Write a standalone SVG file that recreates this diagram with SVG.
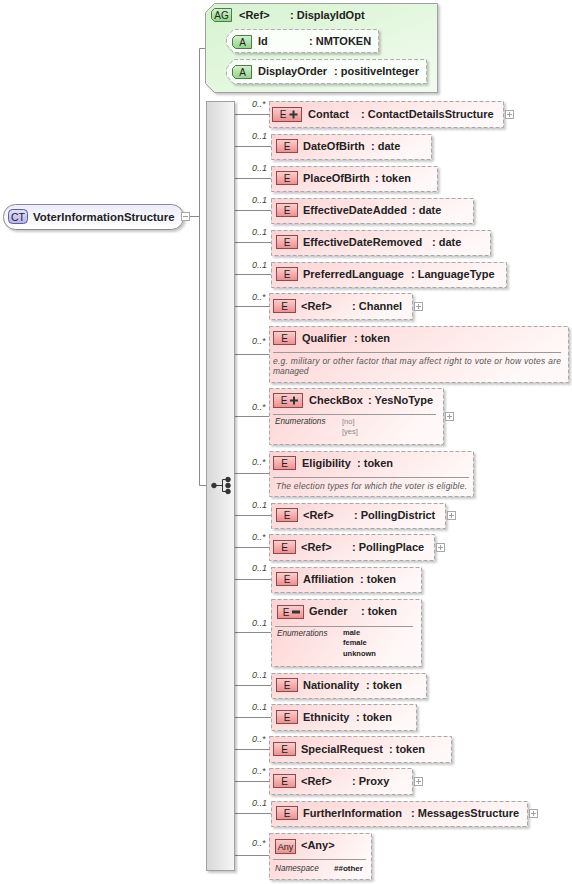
<svg xmlns="http://www.w3.org/2000/svg" width="572" height="884" viewBox="0 0 572 884">
<defs>
<linearGradient id="gEl" x1="0" y1="0" x2="1" y2="0.3">
<stop offset="0" stop-color="#fdd3d3"/><stop offset="1" stop-color="#fff8f8"/>
</linearGradient>
<linearGradient id="gBadge" x1="0" y1="0" x2="0" y2="1">
<stop offset="0" stop-color="#fbd0d0"/><stop offset="1" stop-color="#ee8e8e"/>
</linearGradient>
<linearGradient id="gAG" x1="0" y1="0" x2="1" y2="1">
<stop offset="0" stop-color="#d6f3cf"/><stop offset="1" stop-color="#f2fbf0"/>
</linearGradient>
<linearGradient id="gA" x1="0" y1="0" x2="0" y2="1">
<stop offset="0" stop-color="#d4f0cf"/><stop offset="1" stop-color="#8fd488"/>
</linearGradient>
<linearGradient id="gCT" x1="0" y1="0" x2="0" y2="1">
<stop offset="0" stop-color="#ececfb"/><stop offset="1" stop-color="#ffffff"/>
</linearGradient>
<linearGradient id="gCTb" x1="0" y1="0" x2="0" y2="1">
<stop offset="0" stop-color="#e2e2fa"/><stop offset="1" stop-color="#b4b4ec"/>
</linearGradient>
<linearGradient id="gSeq" x1="0" y1="0" x2="1" y2="0">
<stop offset="0" stop-color="#d8d8d8"/><stop offset="1" stop-color="#f6f6f6"/>
</linearGradient>
<filter id="sh" x="-5%" y="-5%" width="115%" height="130%">
<feDropShadow dx="2" dy="2" stdDeviation="1" flood-color="#000" flood-opacity="0.22"/>
</filter>
<style>
.conn{stroke:#8a8a8a;stroke-width:1;fill:none}
.el{fill:url(#gEl);stroke:#a8a8a8;stroke-width:1;stroke-dasharray:4,2;filter:url(#sh)}
.badge{fill:url(#gBadge);stroke:#8c4a4a;stroke-width:1}
.bt{font-family:"Liberation Sans",Arial,sans-serif;font-size:10px;fill:#222;text-anchor:middle}
.nm{font-family:"Liberation Sans",Arial,sans-serif;font-size:11px;font-weight:bold;fill:#222}
.occ{font-family:"Liberation Sans",Arial,sans-serif;font-size:9px;font-style:italic;fill:#444}
.desc{font-family:"Liberation Sans",Arial,sans-serif;font-size:8.5px;font-style:italic;fill:#555}
.en{font-family:"Liberation Sans",Arial,sans-serif;font-size:8.2px;font-style:italic;fill:#333}
.ev{font-family:"Liberation Sans",Arial,sans-serif;font-size:7.5px;fill:#8a8a8a}
.evb{font-family:"Liberation Sans",Arial,sans-serif;font-size:7.5px;font-weight:bold;fill:#222}
.sep{stroke:#9a9a9a;stroke-width:1}
.pm{fill:#fff;stroke:#a8a8a8;stroke-width:1}
.pml{stroke:#a0a0a0;stroke-width:1}
.ico{stroke:#333;stroke-width:2}
.attr{fill:#fbfffa;stroke:#b0b0b0;stroke-width:1;stroke-dasharray:4,2;filter:url(#sh)}
.abadge{fill:url(#gA);stroke:#4d7d46;stroke-width:1}
</style>
</defs>
<rect width="572" height="884" fill="#fff"/>

<g id="connectors">
<path class="conn" d="M190,216.5H199.5M199.5,48.5V485.5M199.5,48.5H217.5M217.5,40.5V71.5M217.5,40.5H226M217.5,71.5H226M199.5,485.5H214"/>
<path class="conn" d="M235,114.5H269M235,146.5H271M235,178.5H271M235,210.5H271M235,242.5H271M235,274.5H271M235,306.5H269M235,354.5H269M235,416.5H269M235,473.5H269M235,515.5H271M235,547.5H269M235,579.5H271M235,632.5H271M235,685.5H271M235,717.5H271M235,749.5H269M235,781.5H269M235,813.5H271M235,855.5H269"/>
</g>

<g id="n-VoterInformationStructure">
<rect x="3.5" y="204.5" width="180" height="25" rx="12" fill="url(#gCT)" stroke="#8c8c8c" filter="url(#sh)"/>
<rect x="8.5" y="209.5" width="19" height="14" rx="4" fill="url(#gCTb)" stroke="#5a5aa8"/>
<text class="bt" x="18" y="220.5" style="font-size:10.5px">CT</text>
<text class="nm" x="33" y="221" style="font-size:11.4px">VoterInformationStructure</text>
<rect class="pm" x="181.5" y="212.5" width="8" height="8"/>
<path class="pml" d="M183,216.5H188"/>
</g>

<g id="n-DisplayIdOpt">
<path d="M205.5,12.5L214.5,3.5H437.5V92.5H214.5L205.5,83.5Z" fill="url(#gAG)" stroke="#a0a0a0" filter="url(#sh)"/>
<path d="M214.5,8.5H231.5V21.5H214.5L211.5,18.5V11.5Z" fill="url(#gA)" stroke="#4d7d46"/>
<text class="bt" x="221.5" y="19">AG</text>
<text class="nm" x="239" y="19">&lt;Ref&gt;</text>
<text class="nm" x="290" y="19">: DisplayIdOpt</text>
</g>

<g id="n-Id">
<path class="attr" d="M226.5,37.5L233.5,29.5H378.5V52.5H233.5L226.5,44.5Z"/>
<path class="abadge" d="M235.5,35.5H251.5V48.5H235.5L232.5,45.5V38.5Z"/>
<text class="bt" x="242.5" y="46">A</text>
<text class="nm" x="258" y="45">Id</text>
<text class="nm" x="309" y="45">: NMTOKEN</text>
</g>

<g id="n-DisplayOrder">
<path class="attr" d="M226.5,68.5L233.5,59.5H426.5V83.5H233.5L226.5,75.5Z"/>
<path class="abadge" d="M235.5,65.5H251.5V78.5H235.5L232.5,75.5V68.5Z"/>
<text class="bt" x="242.5" y="76">A</text>
<text class="nm" x="258" y="75">DisplayOrder</text>
<text class="nm" x="334" y="75">: positiveInteger</text>
</g>

<g id="n-sequence">
<rect x="206.5" y="101.5" width="28" height="769" fill="url(#gSeq)" stroke="#a0a0a0" filter="url(#sh)"/>
<g fill="#333" stroke="#333">
<circle cx="214" cy="485.5" r="2.3"/>
<path d="M214,485.5H222.5M222.5,479.5V491.5M222.5,479.5H228M222.5,491.5H228" stroke-width="1" fill="none"/>
<circle cx="228" cy="479.5" r="2.3"/><circle cx="228" cy="485.5" r="2.3"/><circle cx="228" cy="491.5" r="2.3"/>
</g>
</g>

<g id="n-Contact">
<text class="occ" x="252" y="107">0..*</text>
<rect class="el" x="269.5" y="101.5" width="234" height="26"/>
<rect class="badge" x="272.5" y="107.5" width="29" height="14"/>
<text class="bt" x="283" y="118">E</text>
<path class="ico" d="M289.5,114.5H297.5M293.5,110.5V118.5"/>
<text class="nm" x="308" y="118">Contact</text>
<text class="nm" x="361" y="118">: ContactDetailsStructure</text>
<rect class="pm" x="505.5" y="110.5" width="8" height="8"/>
<path class="pml" d="M507,114.5H512M509.5,112V117"/>
</g>

<g id="n-DateOfBirth">
<text class="occ" x="252" y="139">0..1</text>
<rect class="el" x="271.5" y="134.5" width="160" height="25"/>
<rect class="badge" x="276.5" y="139.5" width="21" height="13"/>
<text class="bt" x="287" y="150">E</text>
<text class="nm" x="303" y="150">DateOfBirth</text>
<text class="nm" x="371" y="150">: date</text>
</g>

<g id="n-PlaceOfBirth">
<text class="occ" x="252" y="171">0..1</text>
<rect class="el" x="271.5" y="166.5" width="166" height="25"/>
<rect class="badge" x="276.5" y="171.5" width="21" height="13"/>
<text class="bt" x="287" y="182">E</text>
<text class="nm" x="303" y="182">PlaceOfBirth</text>
<text class="nm" x="375" y="182">: token</text>
</g>

<g id="n-EffectiveDateAdded">
<text class="occ" x="252" y="203">0..1</text>
<rect class="el" x="271.5" y="198.5" width="202" height="25"/>
<rect class="badge" x="276.5" y="203.5" width="21" height="13"/>
<text class="bt" x="287" y="214">E</text>
<text class="nm" x="303" y="214">EffectiveDateAdded</text>
<text class="nm" x="412" y="214">: date</text>
</g>

<g id="n-EffectiveDateRemoved">
<text class="occ" x="252" y="235">0..1</text>
<rect class="el" x="271.5" y="230.5" width="219" height="25"/>
<rect class="badge" x="276.5" y="235.5" width="21" height="13"/>
<text class="bt" x="287" y="246">E</text>
<text class="nm" x="303" y="246">EffectiveDateRemoved</text>
<text class="nm" x="432" y="246">: date</text>
</g>

<g id="n-PreferredLanguage">
<text class="occ" x="252" y="268">0..1</text>
<rect class="el" x="271.5" y="262.5" width="235" height="25"/>
<rect class="badge" x="276.5" y="267.5" width="21" height="13"/>
<text class="bt" x="287" y="278">E</text>
<text class="nm" x="303" y="278">PreferredLanguage</text>
<text class="nm" x="411" y="278">: LanguageType</text>
</g>

<g id="n-Channel">
<text class="occ" x="252" y="300">0..*</text>
<rect class="el" x="269.5" y="293.5" width="143" height="26"/>
<rect class="badge" x="273.5" y="299.5" width="22" height="13"/>
<text class="bt" x="284.5" y="310">E</text>
<text class="nm" x="301" y="310">&lt;Ref&gt;</text>
<text class="nm" x="352" y="310">: Channel</text>
<rect class="pm" x="414.5" y="302.5" width="8" height="8"/>
<path class="pml" d="M416,306.5H421M418.5,304V309"/>
</g>

<g id="n-Qualifier">
<text class="occ" x="252" y="344">0..*</text>
<rect class="el" x="269.5" y="326.5" width="299" height="56"/>
<rect class="badge" x="273.5" y="331.5" width="22" height="13"/>
<text class="bt" x="284.5" y="342">E</text>
<text class="nm" x="302" y="342">Qualifier</text>
<text class="nm" x="354" y="342">: token</text>
<path class="sep" d="M273,352.5H561"/>
<text class="desc" x="273" y="364" textLength="288" lengthAdjust="spacing">e.g. military or other factor that may affect right to vote or how votes are</text>
<text class="desc" x="273" y="374">managed</text>
</g>

<g id="n-CheckBox">
<text class="occ" x="252" y="410">0..*</text>
<rect class="el" x="269.5" y="388.5" width="174" height="56"/>
<rect class="badge" x="273.5" y="393.5" width="29" height="14"/>
<text class="bt" x="284" y="404">E</text>
<path class="ico" d="M290,400.5H298M294,396.5V404.5"/>
<text class="nm" x="309" y="404">CheckBox</text>
<text class="nm" x="368" y="404">: YesNoType</text>
<path class="sep" d="M273,414.5H436"/>
<text class="en" x="275" y="424">Enumerations</text>
<text class="ev" x="342" y="424">[no]</text>
<text class="ev" x="342" y="434">[yes]</text>
<rect class="pm" x="445.5" y="412.5" width="8" height="8"/>
<path class="pml" d="M447,416.5H452M449.5,414V419"/>
</g>

<g id="n-Eligibility">
<text class="occ" x="252" y="465">0..*</text>
<rect class="el" x="269.5" y="451.5" width="204" height="45"/>
<rect class="badge" x="273.5" y="456.5" width="22" height="13"/>
<text class="bt" x="284.5" y="467">E</text>
<text class="nm" x="302" y="467">Eligibility</text>
<text class="nm" x="357" y="467">: token</text>
<path class="sep" d="M273,477.5H469"/>
<text class="desc" x="276" y="489" textLength="191" lengthAdjust="spacing">The election types for which the voter is eligible.</text>
</g>

<g id="n-PollingDistrict">
<text class="occ" x="252" y="508">0..1</text>
<rect class="el" x="271.5" y="503.5" width="174" height="25"/>
<rect class="badge" x="276.5" y="508.5" width="21" height="13"/>
<text class="bt" x="287" y="519">E</text>
<text class="nm" x="303" y="519">&lt;Ref&gt;</text>
<text class="nm" x="354" y="519">: PollingDistrict</text>
<rect class="pm" x="447.5" y="511.5" width="8" height="8"/>
<path class="pml" d="M449,515.5H454M451.5,513V518"/>
</g>

<g id="n-PollingPlace">
<text class="occ" x="252" y="540">0..*</text>
<rect class="el" x="269.5" y="534.5" width="165" height="26"/>
<rect class="badge" x="273.5" y="540.5" width="22" height="13"/>
<text class="bt" x="284.5" y="551">E</text>
<text class="nm" x="301" y="551">&lt;Ref&gt;</text>
<text class="nm" x="352" y="551">: PollingPlace</text>
<rect class="pm" x="436.5" y="543.5" width="8" height="8"/>
<path class="pml" d="M438,547.5H443M440.5,545V550"/>
</g>

<g id="n-Affiliation">
<text class="occ" x="252" y="571">0..1</text>
<rect class="el" x="271.5" y="567.5" width="150" height="25"/>
<rect class="badge" x="276.5" y="572.5" width="21" height="13"/>
<text class="bt" x="287" y="583">E</text>
<text class="nm" x="303" y="583">Affiliation</text>
<text class="nm" x="360" y="583">: token</text>
</g>

<g id="n-Gender">
<text class="occ" x="252" y="626">0..1</text>
<rect class="el" x="271.5" y="599.5" width="150" height="67"/>
<rect class="badge" x="277.5" y="605.5" width="26" height="13"/>
<text class="bt" x="286" y="616">E</text>
<path d="M292,610.5H300V613.5H292Z" fill="#333"/>
<text class="nm" x="309" y="615">Gender</text>
<text class="nm" x="361" y="615">: token</text>
<path class="sep" d="M275,626.5H413"/>
<text class="en" x="277" y="636">Enumerations</text>
<text class="evb" x="343" y="635">male</text>
<text class="evb" x="343" y="645">female</text>
<text class="evb" x="343" y="656">unknown</text>
</g>

<g id="n-Nationality">
<text class="occ" x="252" y="678">0..1</text>
<rect class="el" x="271.5" y="673.5" width="155" height="25"/>
<rect class="badge" x="276.5" y="678.5" width="21" height="13"/>
<text class="bt" x="287" y="689">E</text>
<text class="nm" x="303" y="689">Nationality</text>
<text class="nm" x="366" y="689">: token</text>
</g>

<g id="n-Ethnicity">
<text class="occ" x="252" y="710">0..1</text>
<rect class="el" x="271.5" y="704.5" width="145" height="26"/>
<rect class="badge" x="276.5" y="710.5" width="21" height="13"/>
<text class="bt" x="287" y="721">E</text>
<text class="nm" x="303" y="721">Ethnicity</text>
<text class="nm" x="356" y="721">: token</text>
</g>

<g id="n-SpecialRequest">
<text class="occ" x="252" y="742">0..*</text>
<rect class="el" x="269.5" y="736.5" width="182" height="26"/>
<rect class="badge" x="273.5" y="742.5" width="22" height="13"/>
<text class="bt" x="284.5" y="753">E</text>
<text class="nm" x="301" y="753">SpecialRequest</text>
<text class="nm" x="389" y="753">: token</text>
</g>

<g id="n-Proxy">
<text class="occ" x="252" y="774">0..*</text>
<rect class="el" x="269.5" y="768.5" width="143" height="26"/>
<rect class="badge" x="273.5" y="774.5" width="22" height="13"/>
<text class="bt" x="284.5" y="785">E</text>
<text class="nm" x="301" y="785">&lt;Ref&gt;</text>
<text class="nm" x="352" y="785">: Proxy</text>
<rect class="pm" x="414.5" y="777.5" width="8" height="8"/>
<path class="pml" d="M416,781.5H421M418.5,779V784"/>
</g>

<g id="n-FurtherInformation">
<text class="occ" x="252" y="806">0..1</text>
<rect class="el" x="271.5" y="801.5" width="256" height="25"/>
<rect class="badge" x="276.5" y="806.5" width="21" height="13"/>
<text class="bt" x="287" y="817">E</text>
<text class="nm" x="303" y="817">FurtherInformation</text>
<text class="nm" x="411" y="817">: MessagesStructure</text>
<rect class="pm" x="529.5" y="809.5" width="8" height="8"/>
<path class="pml" d="M531,813.5H536M533.5,811V816"/>
</g>

<g id="n-Any">
<text class="occ" x="252" y="846">0..*</text>
<rect class="el" x="269.5" y="833.5" width="102" height="46"/>
<rect class="badge" x="275.5" y="839.5" width="20" height="14"/>
<text class="bt" x="285.5" y="850" style="font-size:9px">Any</text>
<text class="nm" x="301" y="849">&lt;Any&gt;</text>
<path class="sep" d="M273,859.5H366"/>
<text class="en" x="275" y="871">Namespace</text>
<text class="evb" x="334" y="871" style="font-size:8px">##other</text>
</g>
</svg>
